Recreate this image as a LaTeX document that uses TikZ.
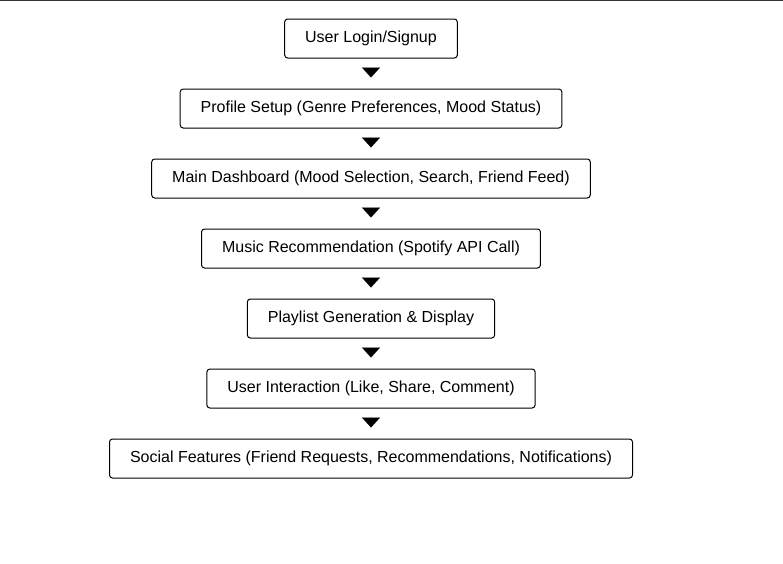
\documentclass[tikz,border=0pt]{standalone}
\usepackage{fontspec}
\setmainfont{Liberation Sans}
\usepackage{tikz}
\usetikzlibrary{positioning,arrows.meta}
\tikzstyle{stepbox} = [rectangle, draw, rounded corners=3pt, line width=1pt,
    inner xsep=20.5pt, minimum height=39pt, font=\fontsize{16}{19}\selectfont]
\tikzstyle{arrow} = [draw=white, line width=0.1pt, shorten <=10pt, shorten >=11pt,
    -{Triangle[black, width=18pt, length=10pt]}]

\begin{document}
\begin{tikzpicture}[x=1pt, y=-1pt, node distance=30pt]
			\useasboundingbox (0,0) rectangle (783,563);
			\draw[line width=1pt, black!80] (0,0.5) -- (783,0.5);
			% Place nodes
			\node [stepbox] at (371,38.5) (login) {User Login/Signup};
			\node [stepbox, below=of login] (profile) {Profile Setup (Genre Preferences, Mood Status)};
			\node [stepbox, below=of profile] (dashboard) {Main Dashboard (Mood Selection, Search, Friend Feed)};
			\node [stepbox, below=of dashboard] (recommend) {Music Recommendation (Spotify API Call)};
			\node [stepbox, below=of recommend] (playlist) {Playlist Generation \& Display};
			\node [stepbox, below=of playlist] (interaction) {User Interaction (Like, Share, Comment)};
			\node [stepbox, below=of interaction] (social) {Social Features (Friend Requests, Recommendations, Notifications)};
			%
			\path [arrow] (login) -- (profile);
			\path [arrow] (profile) -- (dashboard);
			\path [arrow] (dashboard) -- (recommend);
			\path [arrow] (recommend) -- (playlist);
			\path [arrow] (playlist) -- (interaction);
			\path [arrow] (interaction) -- (social);
\end{tikzpicture}
\end{document}
